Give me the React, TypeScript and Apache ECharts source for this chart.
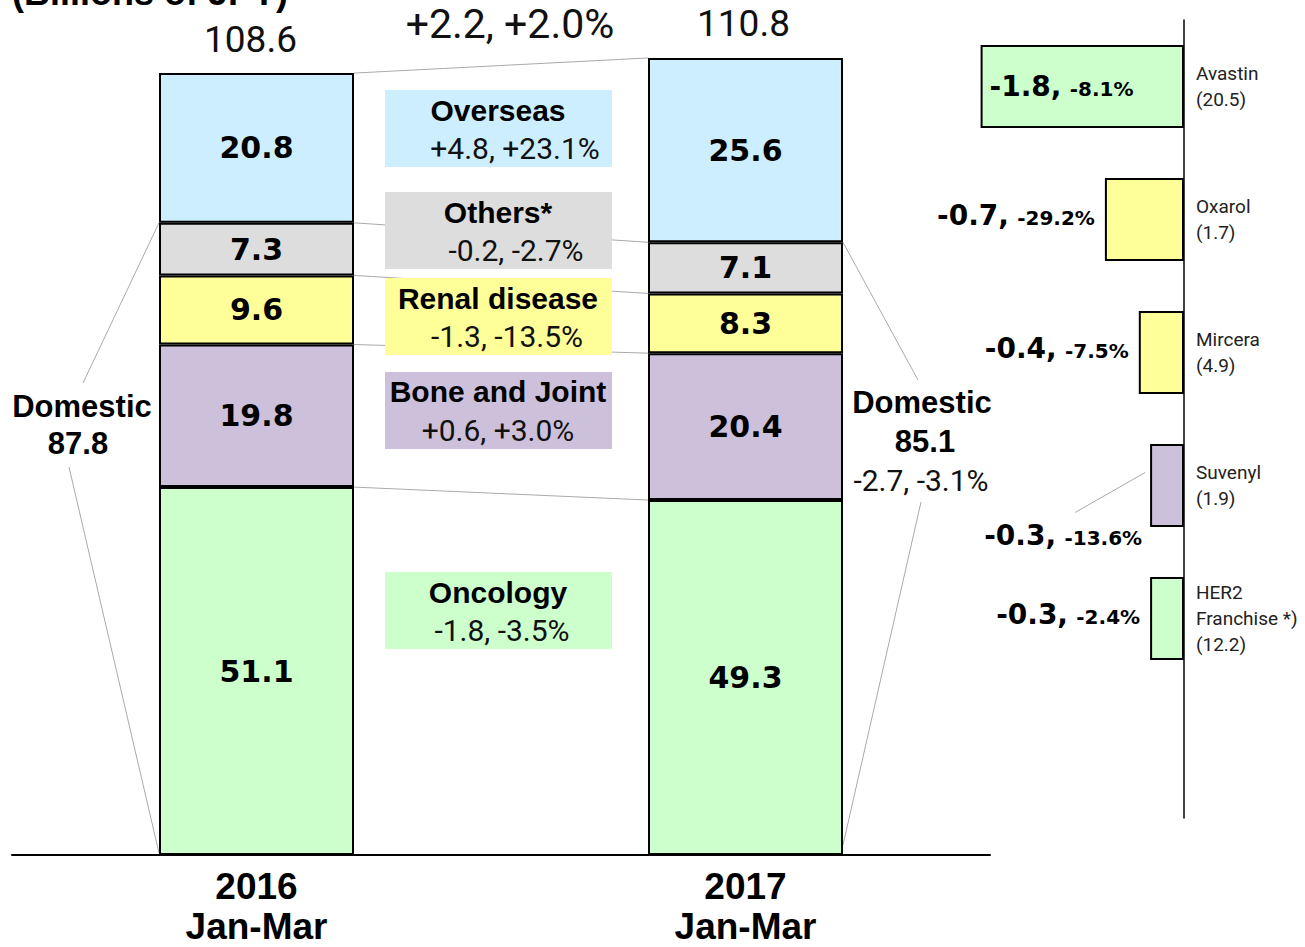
import React, { useEffect, useRef } from "react";
import * as echarts from "echarts";

// ---- Data ----
const categories = ["2016\nJan-Mar", "2017\nJan-Mar"];
const segmentNames = ["Oncology", "Bone and Joint", "Renal disease", "Others*", "Overseas"];
const oncology = [51.1, 49.3];
const boneJoint = [19.8, 20.4];
const renal = [9.6, 8.3];
const others = [7.3, 7.1];
const overseas = [20.8, 25.6];
const segmentChanges = ["-1.8, -3.5%", "+0.6, +3.0%", "-1.3, -13.5%", "-0.2, -2.7%", "+4.8, +23.1%"];
const totals = [108.6, 110.8];
const totalChange = "+2.2, +2.0%";
const domesticTotals = [87.8, 85.1];
const domesticChange = "-2.7, -3.1%";

const drugNames = ["Avastin", "Oxarol", "Mircera", "Suvenyl", "HER2\nFranchise *)", ""];
const drugSales = ["20.5", "1.7", "4.9", "1.9", "12.2"];
const drugChange = [-1.8, -0.7, -0.4, -0.3, -0.3];
const drugPct = ["-8.1%", "-29.2%", "-7.5%", "-13.6%", "-2.4%"];

// ---- Styles ----
const segColors = ["#ccffcc", "#ccc0da", "#ffff99", "#dddddd", "#cceeff"];
const drugColors = ["#ccffcc", "#ffff99", "#ffff99", "#ccc0da", "#ccffcc"];
const BAR_W = 195;
const BOLD = '"Liberation Sans", Arial, sans-serif';
const HEAVY = '"DejaVu Sans", sans-serif';
const REG = 'Roboto, "Liberation Sans", sans-serif';

const segData = [oncology, boneJoint, renal, others, overseas];

// annotation box layout (fixed positions)
const boxes = [
  { idx: 4, top: 90, titleDy: 20, subDy: 58, subX: 515 },
  { idx: 3, top: 192, titleDy: 20, subDy: 58, subX: 516 },
  { idx: 2, top: 278, titleDy: 20, subDy: 58, subX: 507 },
  { idx: 1, top: 372, titleDy: 19, subDy: 58, subX: 498 },
  { idx: 0, top: 572, titleDy: 20, subDy: 58, subX: 502 },
];

export default function App() {
  const ref = useRef<HTMLDivElement>(null);

  useEffect(() => {
    if (!ref.current) return;
    const chart = echarts.init(ref.current, null, { renderer: "svg" });

    const series: any[] = segData.map((vals, si) => ({
      name: segmentNames[si],
      type: "bar",
      stack: "total",
      xAxisIndex: 0,
      yAxisIndex: 0,
      barWidth: BAR_W,
      data: vals,
      itemStyle: { color: segColors[si], borderColor: "#000", borderWidth: 2 },
      label: {
        show: true,
        position: "inside",
        fontFamily: HEAVY,
        fontWeight: "bold",
        fontSize: 30,
        color: "#000",
        formatter: (p: any) => p.value.toFixed(1),
      },
    }));

    series.push({
      name: "drugs",
      type: "bar",
      xAxisIndex: 1,
      yAxisIndex: 1,
      barWidth: 83,
      data: drugChange.map((v, i) => ({
        value: v,
        itemStyle: { color: drugColors[i] },
        label:
          i === 0
            ? { position: "insideLeft", distance: 9 }
            : i === 3
            ? { position: "left", offset: [-3, 50] }
            : { position: "left", distance: 10, offset: [0, -4] },
      })),
      itemStyle: { borderColor: "#000", borderWidth: 2 },
      label: {
        show: true,
        color: "#000",
        formatter: (p: any) => `{a|${p.value.toFixed(1)},} {b|${drugPct[p.dataIndex]}}`,
        rich: {
          a: { fontFamily: HEAVY, fontWeight: "bold", fontSize: 28, color: "#000" },
          b: { fontFamily: HEAVY, fontWeight: "bold", fontSize: 20, color: "#000", padding: [4, 0, 0, 5] },
        },
      },
    });

    const option: any = {
      animation: false,
      backgroundColor: "#fff",
      grid: [
        { left: 12, right: 315, top: 27, bottom: 92, outerBoundsMode: "none", containLabel: false },
        { left: 958, right: 121, top: 20, bottom: 129, outerBoundsMode: "none", containLabel: false },
      ],
      xAxis: [
        {
          type: "category",
          gridIndex: 0,
          data: categories,
          axisLine: { lineStyle: { color: "#000", width: 2 } },
          axisTick: { show: false },
          axisLabel: {
            margin: 11,
            fontFamily: BOLD,
            fontWeight: "bold",
            fontSize: 37,
            lineHeight: 40,
            color: "#000",
          },
        },
        {
          type: "value",
          gridIndex: 1,
          min: -2,
          max: 0,
          show: false,
        },
      ],
      yAxis: [
        { type: "value", gridIndex: 0, min: 0, max: 115, show: false },
        {
          type: "category",
          gridIndex: 1,
          inverse: true,
          position: "right",
          data: drugNames.map((n, i) => (i < drugSales.length ? `${n}\n(${drugSales[i]})` : n)),
          axisLine: { show: true, lineStyle: { color: "#000", width: 1.5 } },
          axisTick: { show: false },
          splitLine: { show: false },
          axisLabel: {
            margin: 12,
            align: "left",
            fontFamily: REG,
            fontSize: 19,
            lineHeight: 26,
            color: "#222",
          },
        },
      ],
      series,
    };

    chart.setOption(option);

    const px = (cat: number, val: number) =>
      chart.convertToPixel({ xAxisIndex: 0, yAxisIndex: 0 }, [cat, val]) as number[];
    const px2 = (val: number, cat: number) =>
      chart.convertToPixel({ xAxisIndex: 1, yAxisIndex: 1 }, [val, cat]) as number[];
    const half = BAR_W / 2;
    const lineStyle = { stroke: "#aaaaaa", lineWidth: 1 };
    const els: any[] = [];

    // connectors between stacked boundaries
    const cum0: number[] = [];
    const cum1: number[] = [];
    let a = 0,
      b = 0;
    segData.forEach((s) => {
      a += s[0];
      b += s[1];
      cum0.push(a);
      cum1.push(b);
    });
    cum0.forEach((v, i) => {
      const p1 = px(0, v);
      const p2 = px(1, cum1[i]);
      els.push({
        type: "line",
        z: 1,
        shape: { x1: p1[0] + half, y1: p1[1], x2: p2[0] - half, y2: p2[1] },
        style: lineStyle,
      });
    });

    // Domestic connectors
    const d0 = px(0, domesticTotals[0]);
    const z0 = px(0, 0);
    const d1 = px(1, domesticTotals[1]);
    const z1 = px(1, 0);
    els.push(
      { type: "line", z: 1, shape: { x1: d0[0] - half, y1: d0[1], x2: 83, y2: 383 }, style: lineStyle },
      { type: "line", z: 1, shape: { x1: 69, y1: 467, x2: z0[0] - half, y2: z0[1] - 2 }, style: lineStyle },
      { type: "line", z: 1, shape: { x1: d1[0] + half, y1: d1[1], x2: 918, y2: 380 }, style: lineStyle },
      { type: "line", z: 1, shape: { x1: 921, y1: 502, x2: z1[0] + half, y2: z1[1] - 10 }, style: lineStyle }
    );

    // annotation boxes
    boxes.forEach((bx) => {
      els.push({
        type: "rect",
        z: 10,
        shape: { x: 385, y: bx.top, width: 227, height: 77 },
        style: { fill: segColors[bx.idx] },
      });
      els.push({
        type: "text",
        z: 11,
        style: {
          text: segmentNames[bx.idx],
          x: 498,
          y: bx.top + bx.titleDy,
          align: "center",
          verticalAlign: "middle",
          fontFamily: BOLD,
          fontWeight: "bold",
          fontSize: 30,
          fill: "#000",
        },
      });
      els.push({
        type: "text",
        z: 11,
        style: {
          text: segmentChanges[bx.idx],
          x: bx.subX,
          y: bx.top + bx.subDy,
          align: "center",
          verticalAlign: "middle",
          fontFamily: REG,
          fontSize: 30,
          fill: "#111",
        },
      });
    });

    // totals
    totals.forEach((t, i) => {
      const p = px(i, t);
      els.push({
        type: "text",
        z: 11,
        style: {
          text: t.toFixed(1),
          x: p[0] - (i === 0 ? 6 : 2),
          y: p[1] - 34,
          align: "center",
          verticalAlign: "middle",
          fontFamily: REG,
          fontSize: 37,
          fill: "#111",
        },
      });
    });
    els.push({
      type: "text",
      z: 11,
      style: {
        text: totalChange,
        x: 510,
        y: 24,
        align: "center",
        verticalAlign: "middle",
        fontFamily: REG,
        fontSize: 41,
        fill: "#111",
      },
    });

    // title (cut at top, as in the original)
    els.push({
      type: "text",
      z: 11,
      style: {
        text: "(Billions of JPY)",
        x: 12,
        y: 10,
        align: "left",
        verticalAlign: "bottom",
        fontFamily: BOLD,
        fontWeight: "bold",
        fontSize: 36,
        fill: "#000",
      },
    });

    const boldText = (text: string, x: number, y: number) => ({
      type: "text",
      z: 11,
      style: {
        text,
        x,
        y,
        align: "center",
        verticalAlign: "middle",
        fontFamily: BOLD,
        fontWeight: "bold",
        fontSize: 31,
        fill: "#000",
      },
    });

    // Domestic labels
    els.push(
      boldText("Domestic", 82, 406),
      boldText(domesticTotals[0].toFixed(1), 78, 443),
      boldText("Domestic", 922, 402),
      boldText(domesticTotals[1].toFixed(1), 925, 441),
      {
        type: "text",
        z: 11,
        style: {
          text: domesticChange,
          x: 921,
          y: 480,
          align: "center",
          verticalAlign: "middle",
          fontFamily: REG,
          fontSize: 30,
          fill: "#111",
        },
      }
    );

    // Suvenyl label connector
    const sv = px2(drugChange[3], 3);
    els.push({
      type: "line",
      z: 1,
      shape: { x1: sv[0] - 75, y1: sv[1] + 27, x2: sv[0] - 5, y2: sv[1] - 13 },
      style: lineStyle,
    });

    chart.setOption({ graphic: { elements: els } });

    return () => chart.dispose();
  }, []);

  return (
    <div
      ref={ref}
      style={{ position: "fixed", left: 0, top: 0, width: 1305, height: 947, background: "#fff" }}
    />
  );
}
